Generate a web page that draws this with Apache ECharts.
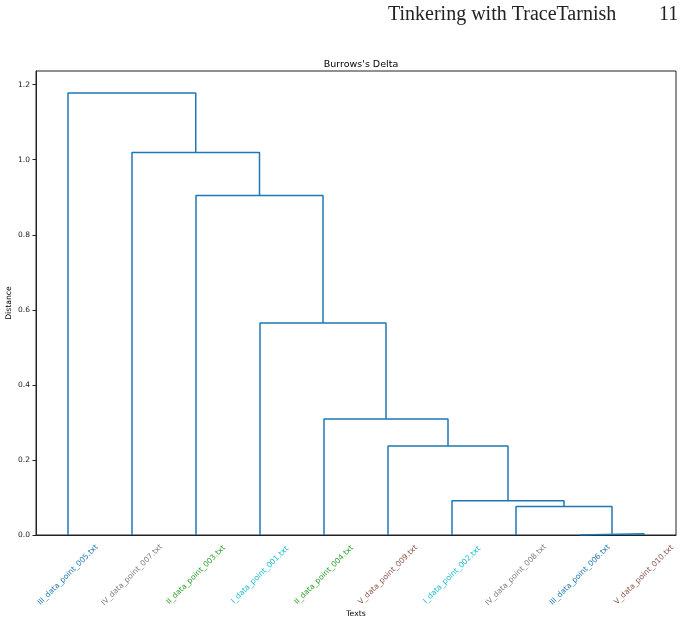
<!DOCTYPE html>
<html>
<head>
<meta charset="utf-8">
<style>
  html, body { margin: 0; padding: 0; background: #fff; }
  #chart { width: 695px; height: 624px; }
</style>
<script src="https://cdn.jsdelivr.net/npm/echarts@6/dist/echarts.min.js"></script>
</head>
<body>
<div id="chart"></div>
<script>
// leaves in dendrogram order (left -> right)
const leaves = [
  'III_data_point_005.txt',
  'IV_data_point_007.txt',
  'II_data_point_003.txt',
  'I_data_point_001.txt',
  'II_data_point_004.txt',
  'V_data_point_009.txt',
  'I_data_point_002.txt',
  'IV_data_point_008.txt',
  'III_data_point_006.txt',
  'V_data_point_010.txt'
]

// label colour per author group
const groupColors = {
  I: '#17becf',
  II: '#2ca02c',
  III: '#1f77b4',
  IV: '#7f7f7f',
  V: '#8c564b'
}

// linkage: [left node, right node, distance]; new nodes get ids 10, 11, ...
const merges = [
  [8, 9, 0.003],
  [7, 10, 0.076],
  [6, 11, 0.091],
  [5, 12, 0.237],
  [4, 13, 0.309],
  [3, 14, 0.565],
  [2, 15, 0.905],
  [1, 16, 1.019],
  [0, 17, 1.178]
]

const yMax = 1.2365
const yInterval = 0.2

const chart = echarts.init(document.getElementById('chart'))

// build U-shaped links from the linkage
const nodeX = leaves.map((_, i) => i)
const nodeH = leaves.map(() => 0)
const linkSeries = merges.map(([a, b, h]) => {
  const seg = [[nodeX[a], nodeH[a]], [nodeX[a], h], [nodeX[b], h], [nodeX[b], nodeH[b]]]
  nodeX.push((nodeX[a] + nodeX[b]) / 2)
  nodeH.push(h)
  return {
    type: 'line',
    xAxisIndex: 1,
    data: seg,
    symbol: 'none',
    silent: true,
    animation: false,
    lineStyle: { color: '#1f77b4', width: 1.5 },
    z: 3
  }
})

const groupOf = name => name.split('_')[0]

const option = {
  animation: false,
  title: {
    text: "Burrows's Delta",
    left: 356,
    top: 55,
    textAlign: 'center',
    textStyle: { fontFamily: 'DejaVu Sans', fontSize: 9.5, fontWeight: 'normal', color: '#000' }
  },
  graphic: [
    {
      type: 'text', left: 388, top: 5,
      style: { text: 'Tinkering with TraceTarnish', font: '20px "Liberation Serif"', fill: '#222' }
    },
    {
      type: 'text', left: 659, top: 5,
      style: { text: '11', font: '20px "Liberation Serif"', fill: '#222' }
    }
  ],
  grid: {
    left: 36, right: 19, top: 71, bottom: 89,
    show: true, borderColor: '#222', borderWidth: 1,
    outerBoundsMode: 'none',
    containLabel: false
  },
  xAxis: [
    {
      type: 'category',
      data: leaves,
      name: 'Texts',
      nameLocation: 'middle',
      nameGap: 75,
      nameMoveOverlap: false,
      nameTextStyle: { fontFamily: 'DejaVu Sans', fontSize: 7.7, color: '#000' },
      axisLine: { onZero: false, lineStyle: { color: '#222', width: 1 } },
      axisTick: { alignWithLabel: true, length: 3.5, lineStyle: { color: '#222' } },
      axisLabel: {
        interval: 0,
        rotate: 45,
        align: 'center',
        verticalAlign: 'middle',
        margin: 40,
        fontFamily: 'DejaVu Sans',
        fontSize: 7.6,
        color: (value) => groupColors[groupOf(value)]
      },
      splitLine: { show: false }
    },
    {
      type: 'value',
      show: false,
      min: -0.5,
      max: leaves.length - 0.5
    }
  ],
  yAxis: {
    type: 'value',
    min: 0,
    max: yMax,
    interval: yInterval,
    name: 'Distance',
    nameLocation: 'middle',
    nameGap: 23,
    nameMoveOverlap: false,
    nameTextStyle: { fontFamily: 'DejaVu Sans', fontSize: 7.7, color: '#000' },
    axisLine: { show: true, onZero: false, lineStyle: { color: '#222', width: 1 } },
    axisTick: { show: true, length: 3.5, lineStyle: { color: '#222' } },
    axisLabel: {
      showMaxLabel: false,
      margin: 6,
      fontFamily: 'DejaVu Sans',
      fontSize: 7.5,
      color: '#222',
      formatter: v => v.toFixed(1)
    },
    splitLine: { show: false }
  },
  series: linkSeries
}

chart.setOption(option)
</script>
</body>
</html>
